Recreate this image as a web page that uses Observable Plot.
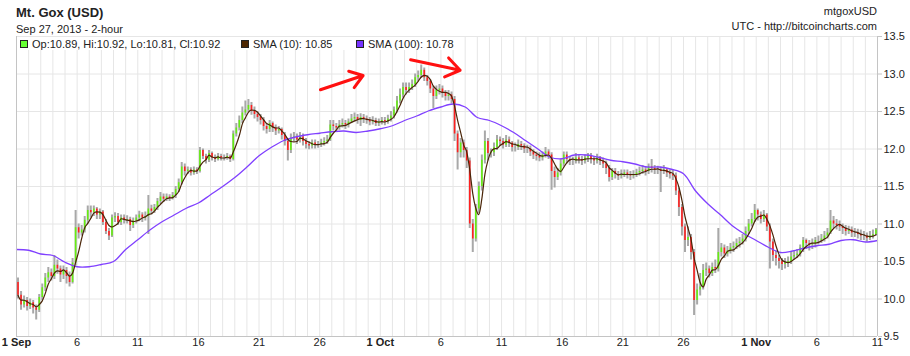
<!DOCTYPE html>
<html>
<head>
<meta charset="utf-8">
<script src="https://cdn.jsdelivr.net/npm/d3@7"></script>
<script src="https://cdn.jsdelivr.net/npm/@observablehq/plot@0.6"></script>
<style>
  body { margin: 0; background: #fff; }
  #wrap { position: relative; width: 910px; height: 356px; font-family: "Liberation Sans", Arial, sans-serif; color: #222; }
  .abs { position: absolute; white-space: nowrap; line-height: 1; }
  #legend { position: absolute; left: 17px; top: 37px; width: 440px; height: 13px; background: #fff; font-size: 11px; }
  .sw { position: absolute; top: 3px; width: 6px; height: 6px; border: 1px solid #222; }
  .lt { position: absolute; top: 1px; }
</style>
</head>
<body>
<div id="wrap">
  <div id="chart"></div>
  <div class="abs" style="left:16px;top:6px;font-size:13px;font-weight:bold;">Mt. Gox (USD)</div>
  <div class="abs" style="left:16px;top:24px;font-size:11px;">Sep 27, 2013 - 2-hour</div>
  <div class="abs" style="right:33px;top:6px;font-size:11px;">mtgoxUSD</div>
  <div class="abs" style="right:33px;top:21px;font-size:11px;">UTC - http://bitcoincharts.com</div>
  <div id="legend">
    <div class="sw" style="left:3px;background:#66ff33;"></div><div class="lt" style="left:15px;">Op:10.89, Hi:10.92, Lo:10.81, Cl:10.92</div>
    <div class="sw" style="left:224px;background:#4d2600;"></div><div class="lt" style="left:236px;">SMA (10): 10.85</div>
    <div class="sw" style="left:339px;background:#7733ff;"></div><div class="lt" style="left:351px;">SMA (100): 10.78</div>
  </div>
</div>
<script>
// ---- data (6-hour candles from 1 Sep 2013 00:00 UTC) ----
const firstOpen = 10.22;
const close = [
  10.05, 9.92, 9.98, 9.90,   9.95, 9.88, 9.85, 10.02,   10.15, 10.28, 10.35, 10.30,
  10.45, 10.40, 10.32, 10.38, 10.30, 10.22, 10.48, 10.95, 10.88, 10.92, 11.05, 11.18,
  11.15, 11.20, 11.12, 11.16, 11.02, 10.90, 10.84, 11.08, 11.10, 11.02, 11.08, 11.05,
  11.06, 10.98, 11.04, 11.08, 11.12, 11.08, 11.10, 11.20, 11.17, 11.22, 11.30, 11.36,
  11.33, 11.36, 11.34, 11.38, 11.46, 11.55, 11.76, 11.70, 11.72, 11.68, 11.72, 11.70,
  11.98, 11.90, 11.85, 11.94, 11.88, 11.86, 11.90, 11.88, 11.88, 11.90, 11.86, 12.20,
  12.28, 12.38, 12.48, 12.52, 12.58, 12.50, 12.46, 12.42, 12.38, 12.30, 12.26, 12.34,
  12.28, 12.24, 12.26, 12.18, 12.10, 11.98, 12.14, 12.16, 12.12, 12.16, 12.10, 12.06,
  12.04, 12.08, 12.05, 12.06, 12.08, 12.10, 12.12, 12.32, 12.30, 12.28, 12.32, 12.34,
  12.32, 12.36, 12.40, 12.42, 12.38, 12.42, 12.40, 12.38, 12.36, 12.38, 12.34, 12.36,
  12.38, 12.36, 12.40, 12.44, 12.52, 12.64, 12.72, 12.82, 12.78, 12.82, 12.86, 12.95,
  12.98, 13.05, 12.95, 12.90, 12.80, 12.70, 12.78, 12.80, 12.74, 12.70, 12.72, 12.66,
  12.20, 11.95, 12.08, 11.98, 11.84, 11.00, 10.80, 11.20, 11.50, 11.85, 12.10, 11.94,
  11.95, 12.02, 12.12, 12.10, 12.05, 12.12, 12.08, 12.02, 12.02, 12.06, 12.04, 12.00,
  12.00, 11.96, 11.92, 11.90, 11.88, 11.92, 11.96, 11.92, 11.70, 11.62, 11.68, 11.80,
  11.92, 11.86, 11.84, 11.84, 11.88, 11.86, 11.84, 11.88, 11.90, 11.86, 11.84, 11.88,
  11.84, 11.80, 11.74, 11.62, 11.70, 11.66, 11.64, 11.66, 11.68, 11.66, 11.64, 11.66,
  11.68, 11.70, 11.72, 11.70, 11.76, 11.74, 11.72, 11.72, 11.70, 11.72, 11.68, 11.66,
  11.64, 11.44, 11.22, 10.96, 10.78, 10.82, 10.62, 9.98,  10.12, 10.16, 10.38, 10.40,
  10.34, 10.42, 10.40, 10.62, 10.68, 10.60, 10.64, 10.68, 10.70, 10.74, 10.76, 10.80,
  10.90, 11.00, 11.06, 11.18, 11.12, 11.06, 11.12, 10.96, 10.76, 10.58, 10.54, 10.50,
  10.46, 10.48, 10.50, 10.56, 10.58, 10.60, 10.68, 10.78, 10.74, 10.72, 10.74, 10.78,
  10.78, 10.80, 10.84, 10.88, 11.04, 11.00, 10.98, 10.96, 10.94, 10.90, 10.92, 10.88,
  10.88, 10.86, 10.84, 10.84, 10.81, 10.84, 10.86, 10.92
];
const high = [
  10.28, 10.10, 10.04, 10.02, 10.00, 9.98, 9.92, 10.06, 10.20, 10.34, 10.42, 10.40,
  10.58, 10.52, 10.44, 10.44, 10.42, 10.36, 10.54, 11.18, 11.00, 10.98, 11.10, 11.24,
  11.24, 11.24, 11.22, 11.20, 11.18, 11.06, 10.94, 11.12, 11.15, 11.14, 11.12, 11.12,
  11.11, 11.09, 11.08, 11.12, 11.17, 11.15, 11.16, 11.38, 11.25, 11.26, 11.34, 11.42,
  11.40, 11.40, 11.39, 11.42, 11.50, 11.60, 11.82, 11.80, 11.76, 11.75, 11.76, 11.75,
  12.02, 12.00, 11.93, 11.98, 11.96, 11.92, 11.94, 11.93, 11.92, 11.94, 11.92, 12.24,
  12.34, 12.44, 12.56, 12.64, 12.66, 12.62, 12.56, 12.50, 12.46, 12.42, 12.34, 12.38,
  12.36, 12.32, 12.30, 12.28, 12.22, 12.14, 12.20, 12.22, 12.20, 12.22, 12.20, 12.14,
  12.10, 12.12, 12.12, 12.10, 12.13, 12.15, 12.18, 12.38, 12.38, 12.34, 12.38, 12.40,
  12.38, 12.40, 12.46, 12.48, 12.46, 12.47, 12.46, 12.44, 12.42, 12.43, 12.41, 12.40,
  12.42, 12.42, 12.45, 12.50, 12.56, 12.70, 12.80, 12.88, 12.88, 12.88, 12.92, 13.00,
  13.04, 13.12, 13.08, 12.98, 12.92, 12.84, 12.84, 12.86, 12.84, 12.78, 12.78, 12.76,
  12.70, 12.24, 12.14, 12.12, 12.02, 11.88, 11.06, 11.26, 11.56, 11.92, 12.24, 12.14,
  12.00, 12.08, 12.18, 12.16, 12.14, 12.18, 12.16, 12.10, 12.08, 12.12, 12.10, 12.07,
  12.05, 12.04, 11.99, 11.96, 11.95, 11.96, 12.02, 11.99, 11.95, 11.76, 11.74, 11.86,
  11.96, 11.96, 11.90, 11.89, 11.94, 11.92, 11.90, 11.92, 11.94, 11.94, 11.90, 11.93,
  11.90, 11.88, 11.84, 11.78, 11.74, 11.74, 11.70, 11.72, 11.72, 11.72, 11.70, 11.71,
  11.73, 11.76, 11.78, 11.76, 11.80, 11.86, 11.78, 11.77, 11.76, 11.78, 11.74, 11.72,
  11.72, 11.68, 11.48, 11.26, 11.00, 10.96, 10.86, 10.66, 10.20, 10.34, 10.46, 10.48,
  10.44, 10.48, 10.52, 10.94, 10.74, 10.72, 10.70, 10.74, 10.76, 10.80, 10.82, 10.86,
  10.96, 11.06, 11.14, 11.26, 11.20, 11.16, 11.18, 11.14, 11.00, 10.80, 10.64, 10.58,
  10.54, 10.54, 10.56, 10.62, 10.64, 10.66, 10.72, 10.82, 10.80, 10.78, 10.80, 10.82,
  10.84, 10.86, 10.90, 10.94, 11.18, 11.10, 11.06, 11.04, 11.00, 10.98, 10.97, 10.96,
  10.94, 10.93, 10.92, 10.90, 10.88, 10.90, 10.92, 10.94
];
const low = [
  10.00, 9.85, 9.88, 9.84,   9.86, 9.80, 9.72, 9.82,    9.98, 10.10, 10.22, 10.24,
  10.26, 10.33, 10.22, 10.26, 10.20, 10.16, 10.20, 10.44, 10.80, 10.84, 10.88, 11.00,
  11.08, 11.10, 11.06, 11.06, 10.98, 10.86, 10.78, 10.82, 11.02, 10.98, 10.98, 11.00,
  11.00, 10.90, 10.94, 11.00, 11.03, 11.02, 11.04, 10.86, 11.12, 11.14, 11.18, 11.26,
  11.29, 11.30, 11.30, 11.32, 11.34, 11.42, 11.52, 11.64, 11.66, 11.64, 11.65, 11.66,
  11.68, 11.86, 11.80, 11.82, 11.84, 11.82, 11.84, 11.84, 11.84, 11.85, 11.82, 11.84,
  12.16, 12.24, 12.34, 12.44, 12.48, 12.45, 12.40, 12.36, 12.32, 12.24, 12.20, 12.22,
  12.22, 12.18, 12.20, 12.12, 12.04, 11.84, 11.94, 12.10, 12.06, 12.08, 12.04, 12.00,
  11.99, 12.00, 12.00, 12.01, 12.02, 12.04, 12.06, 12.10, 12.24, 12.22, 12.25, 12.28,
  12.26, 12.28, 12.34, 12.36, 12.33, 12.30, 12.34, 12.33, 12.31, 12.32, 12.30, 12.30,
  12.32, 12.31, 12.33, 12.36, 12.40, 12.48, 12.60, 12.68, 12.72, 12.74, 12.78, 12.82,
  12.90, 12.94, 12.90, 12.84, 12.74, 12.54, 12.66, 12.72, 12.68, 12.64, 12.64, 12.60,
  12.10, 11.72, 11.88, 11.88, 11.74, 10.94, 10.62, 10.76, 11.14, 11.44, 11.80, 11.84,
  11.88, 11.90, 11.98, 12.04, 12.00, 12.02, 12.02, 11.96, 11.96, 11.98, 11.98, 11.94,
  11.94, 11.90, 11.86, 11.84, 11.83, 11.84, 11.88, 11.86, 11.45, 11.48, 11.58, 11.64,
  11.76, 11.80, 11.78, 11.78, 11.80, 11.80, 11.78, 11.80, 11.82, 11.80, 11.78, 11.80,
  11.78, 11.74, 11.66, 11.56, 11.58, 11.60, 11.58, 11.60, 11.62, 11.60, 11.58, 11.60,
  11.62, 11.64, 11.66, 11.64, 11.66, 11.68, 11.66, 11.66, 11.42, 11.66, 11.62, 11.60,
  11.58, 11.38, 11.10, 10.84, 10.62, 10.70, 10.52, 9.78,  9.92, 10.04, 10.12, 10.30,
  10.28, 10.30, 10.34, 10.36, 10.56, 10.54, 10.56, 10.60, 10.62, 10.66, 10.68, 10.72,
  10.76, 10.86, 10.96, 11.02, 11.04, 11.00, 11.02, 10.90, 10.40, 10.50, 10.44, 10.40,
  10.38, 10.40, 10.42, 10.46, 10.52, 10.54, 10.56, 10.62, 10.66, 10.64, 10.66, 10.68,
  10.72, 10.74, 10.76, 10.80, 10.86, 10.94, 10.92, 10.90, 10.86, 10.84, 10.86, 10.82,
  10.82, 10.80, 10.78, 10.78, 10.76, 10.78, 10.80, 10.84
];
// SMA(100) read once per day at 00:00 UTC, 1 Sep .. 11 Nov
const sma100 = [
  10.66, 10.65, 10.60, 10.58, 10.49, 10.43, 10.43, 10.46, 10.50, 10.66, 10.79, 10.92,
  11.03, 11.12, 11.21, 11.28, 11.39, 11.50, 11.62, 11.76, 11.91, 12.02, 12.11, 12.16,
  12.19, 12.21, 12.23, 12.24, 12.22, 12.24, 12.27, 12.31, 12.38, 12.44, 12.51, 12.56,
  12.60, 12.56, 12.42, 12.38, 12.31, 12.22, 12.11, 12.00, 11.89, 11.87, 11.92, 11.92,
  11.89, 11.85, 11.83, 11.80, 11.76, 11.76, 11.73, 11.67, 11.44, 11.27, 11.13, 10.98,
  10.87, 10.78, 10.69, 10.62, 10.64, 10.68, 10.71, 10.73, 10.78, 10.79, 10.76, 10.78
];
const xTickDates = ["2013-09-06","2013-09-11","2013-09-16","2013-09-21","2013-09-26",
  "2013-10-06","2013-10-11","2013-10-16","2013-10-21","2013-10-26","2013-11-06","2013-11-11"];
const xTickLabels = ["6","11","16","21","26","6","11","16","21","26","6","11"];
const monthDates = ["2013-09-01","2013-10-01","2013-11-01"];
const monthLabels = ["1 Sep","1 Oct","1 Nov"];
const yTicks = [9.5, 10, 10.5, 11, 11.5, 12, 12.5, 13, 13.5];
const arrowFrom = ["2013-09-26T01:30Z", "2013-10-03T12:00Z"];
const arrowFromY = [12.79, 13.19];
const arrowTo = ["2013-09-29T14:00Z", "2013-10-07T14:00Z"];
const arrowToY = [12.98, 13.05];

// ---- build tables ----
const t0 = Date.UTC(2013, 8, 1);
const tEnd = Date.UTC(2013, 10, 11);
const HOUR = 3600e3;
const candles = close.map((c, i) => ({
  t: new Date(t0 + i * 6 * HOUR + 3 * HOUR),
  o: i ? close[i - 1] : firstOpen,
  h: high[i], l: low[i], c
}));
const smaSlow = sma100.map((v, i) => ({t: new Date(t0 + i * 24 * HOUR), v}));
const days = d3.utcDays(new Date(t0), new Date(tEnd + 1));
const xTicks = xTickDates.map((d, i) => ({t: new Date(d), label: xTickLabels[i]}));
const mTicks = monthDates.map((d, i) => ({t: new Date(d), label: monthLabels[i]}));
const arrows = arrowFrom.map((d, i) => ({x1: new Date(d), y1: arrowFromY[i], x2: new Date(arrowTo[i]), y2: arrowToY[i]}));

const chart = Plot.plot({
  width: 910, height: 356,
  marginTop: 36, marginBottom: 20, marginLeft: 16, marginRight: 33,
  style: {fontFamily: "'Liberation Sans', Arial, sans-serif", fontSize: "11px", background: "#fff", color: "#222"},
  x: {type: "utc", domain: [new Date(t0), new Date(tEnd)], axis: null},
  y: {domain: [9.5, 13.5], axis: null},
  marks: [
    Plot.gridX(days, {stroke: "#e6e6e6", strokeOpacity: 1}),
    Plot.gridY(yTicks, {stroke: "#e6e6e6", strokeOpacity: 1}),
    Plot.ruleX(candles, {x: "t", y1: "l", y2: "h", stroke: "#a8a8a8", strokeWidth: 2}),
    Plot.ruleX(candles, {x: "t", y1: "o", y2: "c", stroke: d => d.c >= d.o ? "#66ee11" : "#ff2020", strokeWidth: 1.6}),
    Plot.line(smaSlow, {x: "t", y: "v", stroke: "#8040ff", strokeWidth: 1.3, curve: "catmull-rom"}),
    Plot.line(candles, Plot.windowY({k: 4, anchor: "end", reduce: "mean", strict: false},
      {x: "t", y: "c", stroke: "#4a2508", strokeWidth: 1.2, curve: "monotone-x"})),
    Plot.arrow(arrows, {x1: "x1", y1: "y1", x2: "x2", y2: "y2", stroke: "#ff1010", strokeWidth: 3, headLength: 13, headAngle: 70, bend: 0}),
    Plot.ruleX([new Date(t0), new Date(tEnd)], {stroke: "#c4c4c4"}),
    Plot.ruleY([9.5], {stroke: "#c4c4c4"}),
    Plot.axisY({anchor: "right", ticks: yTicks, tickFormat: d3.format(".1f"), tickSize: 4, tickPadding: 2, stroke: "#c4c4c4", label: null, fontSize: 11}),
    Plot.text(xTicks, {x: "t", text: "label", frameAnchor: "bottom", dy: 9, fill: "#222", fontSize: 11}),
    Plot.text(mTicks, {x: "t", text: "label", frameAnchor: "bottom", dy: 9, fill: "#222", fontSize: 11, fontWeight: "bold"})
  ]
});
document.getElementById("chart").appendChild(chart);
</script>
</body>
</html>
